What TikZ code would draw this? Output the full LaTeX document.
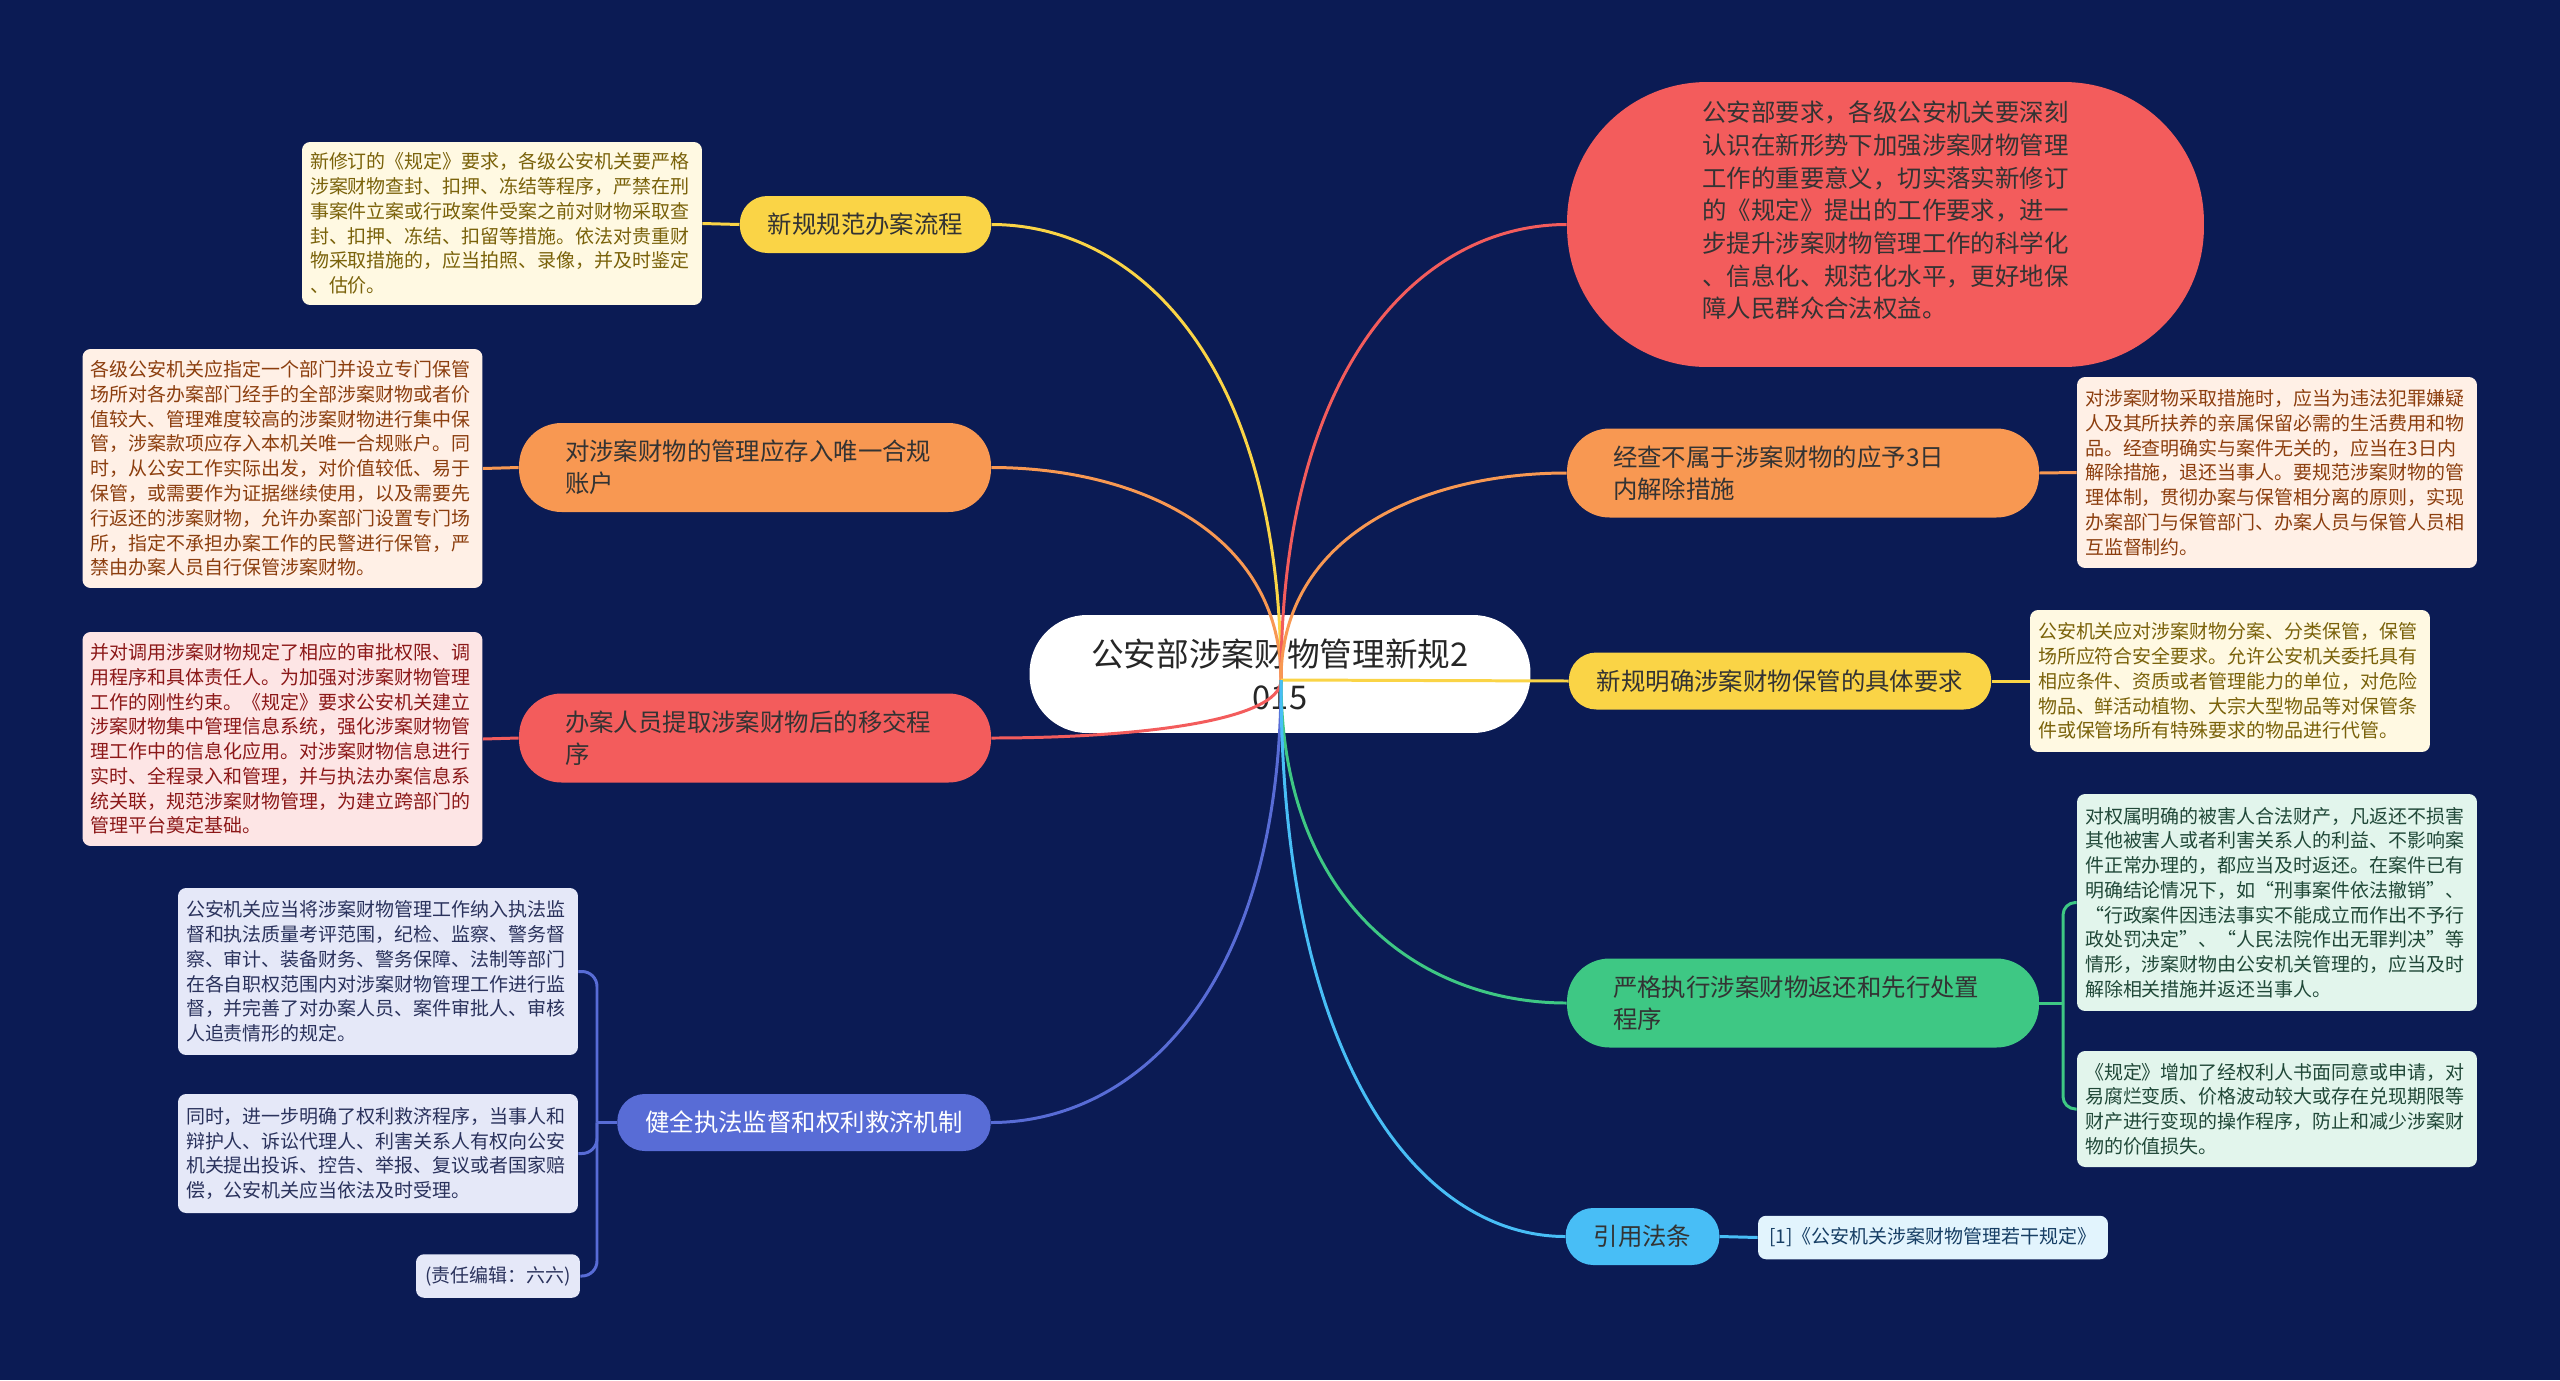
\documentclass[tikz,border=0pt]{standalone}
\usepackage{fontspec}
\setmainfont{Noto Sans CJK SC}
\usepackage{xcolor}
\usepackage{tikz}
\definecolor{navybg}{RGB}{11,27,84}
\definecolor{mmyellow}{RGB}{250,212,70}
\definecolor{mmorange}{RGB}{248,152,82}
\definecolor{mmred}{RGB}{243,92,92}
\definecolor{mmblue}{RGB}{88,108,214}
\definecolor{mmgreen}{RGB}{62,200,132}
\definecolor{mmcyan}{RGB}{72,190,246}
\definecolor{fillyellow}{RGB}{255,249,226}
\definecolor{textyellow}{RGB}{122,98,10}
\definecolor{fillorange}{RGB}{255,240,230}
\definecolor{textorange}{RGB}{140,62,14}
\definecolor{fillred}{RGB}{253,229,229}
\definecolor{textred}{RGB}{140,24,24}
\definecolor{fillblue}{RGB}{229,232,248}
\definecolor{textblue}{RGB}{42,50,92}
\definecolor{fillgreen}{RGB}{226,245,236}
\definecolor{textgreen}{RGB}{32,72,56}
\definecolor{fillcyan}{RGB}{226,244,253}
\definecolor{textcyan}{RGB}{22,62,100}

\begin{document}
\begin{tikzpicture}[
    x=0.02cm, y=-0.02cm,
    root/.style={rectangle, rounded corners=1.15cm, fill=white, text=black!85, minimum width=10.02cm, minimum height=2.36cm, align=center, font=\fontsize{18.6}{24.5}\selectfont},
    topic/.style={rectangle, rounded corners=0.55cm, minimum height=1.14cm, inner xsep=0.56cm, text=black!80, font=\fontsize{13.9}{18}\selectfont},
    topictwo/.style={rectangle, rounded corners=0.85cm, minimum height=1.78cm, inner xsep=0.92cm, text width=7.6cm, align=left, text=black!80, font=\fontsize{13.9}{18.3}\selectfont},
    bigtopic/.style={rectangle, rounded corners=2.8cm, minimum width=12.74cm, minimum height=5.7cm, align=left, text=black!80, font=\fontsize{13.9}{18.6}\selectfont},
    leaf/.style={rectangle, rounded corners=0.16cm, inner xsep=0.16cm, inner ysep=0.1cm, text width=7.68cm, align=left, font=\fontsize{10.8}{14.1}\selectfont},
    tag/.style={rectangle, rounded corners=0.16cm, minimum height=0.87cm, font=\fontsize{10.8}{14.1}\selectfont},
    link/.style={line width=1.7pt}
]
    % Background
    \fill[navybg] (0,0) rectangle (2560,1380);

    % Central topic
    \node[root] (root) at (1280,674) {公安部涉案财物管理新规2\\015};
    \coordinate (hub) at (1281,680);

    % Left branches
    \node[topic, fill=mmyellow] (b1) at (865.5,224.5) {新规规范办案流程};
    \node[topictwo, fill=mmorange] (b2) at (755,467.5) {对涉案财物的管理应存入唯一合规\\账户};
    \node[topictwo, fill=mmred] (b3) at (755,738) {办案人员提取涉案财物后的移交程\\序};
    \node[topic, fill=mmblue, text=white] (b4) at (804,1122.5) {健全执法监督和权利救济机制};

    % Right branches
    \node[bigtopic, fill=mmred] (b5) at (1885.5,224.5) {公安部要求，各级公安机关要深刻\\认识在新形势下加强涉案财物管理\\工作的重要意义，切实落实新修订\\的《规定》提出的工作要求，进一\\步提升涉案财物管理工作的科学化\\、信息化、规范化水平，更好地保\\障人民群众合法权益。\\[-0.05cm]\mbox{}};
    \node[topictwo, fill=mmorange] (b6) at (1803,473) {经查不属于涉案财物的应予3日\\内解除措施};
    \node[topic, fill=mmyellow] (b7) at (1780,681) {新规明确涉案财物保管的具体要求};
    \node[topictwo, fill=mmgreen] (b8) at (1803,1003) {严格执行涉案财物返还和先行处置\\程序};
    \node[topic, fill=mmcyan] (b9) at (1642.5,1236.5) {引用法条};

    % Left details
    \node[leaf, fill=fillyellow, text=textyellow, minimum height=3.26cm] (n1) at (502,223.5) {新修订的《规定》要求，各级公安机关要严格\\涉案财物查封、扣押、冻结等程序，严禁在刑\\事案件立案或行政案件受案之前对财物采取查\\封、扣押、冻结、扣留等措施。依法对贵重财\\物采取措施的，应当拍照、录像，并及时鉴定\\、估价。};
    \node[leaf, fill=fillorange, text=textorange, minimum height=4.78cm] (n2) at (282.5,468.5) {各级公安机关应指定一个部门并设立专门保管\\场所对各办案部门经手的全部涉案财物或者价\\值较大、管理难度较高的涉案财物进行集中保\\管，涉案款项应存入本机关唯一合规账户。同\\时，从公安工作实际出发，对价值较低、易于\\保管，或需要作为证据继续使用，以及需要先\\行返还的涉案财物，允许办案部门设置专门场\\所，指定不承担办案工作的民警进行保管，严\\禁由办案人员自行保管涉案财物。};
    \node[leaf, fill=fillred, text=textred, minimum height=4.28cm] (n3) at (282.5,739) {并对调用涉案财物规定了相应的审批权限、调\\用程序和具体责任人。为加强对涉案财物管理\\工作的刚性约束。《规定》要求公安机关建立\\涉案财物集中管理信息系统，强化涉案财物管\\理工作中的信息化应用。对涉案财物信息进行\\实时、全程录入和管理，并与执法办案信息系\\统关联，规范涉案财物管理，为建立跨部门的\\管理平台奠定基础。};
    \node[leaf, fill=fillblue, text=textblue, minimum height=3.34cm] (n4a) at (378,971.5) {公安机关应当将涉案财物管理工作纳入执法监\\督和执法质量考评范围，纪检、监察、警务督\\察、审计、装备财务、警务保障、法制等部门\\在各自职权范围内对涉案财物管理工作进行监\\督，并完善了对办案人员、案件审批人、审核\\人追责情形的规定。};
    \node[leaf, fill=fillblue, text=textblue, minimum height=2.38cm] (n4b) at (378,1153.5) {同时，进一步明确了权利救济程序，当事人和\\辩护人、诉讼代理人、利害关系人有权向公安\\机关提出投诉、控告、举报、复议或者国家赔\\偿，公安机关应当依法及时受理。};
    \node[tag, fill=fillblue, text=textblue, minimum width=3.28cm] (n4c) at (498,1276) {(责任编辑：六六)};

    % Right details
    \node[leaf, fill=fillorange, text=textorange, minimum height=3.82cm] (r6) at (2277,472.5) {对涉案财物采取措施时，应当为违法犯罪嫌疑\\人及其所扶养的亲属保留必需的生活费用和物\\品。经查明确实与案件无关的，应当在3日内\\解除措施，退还当事人。要规范涉案财物的管\\理体制，贯彻办案与保管相分离的原则，实现\\办案部门与保管部门、办案人员与保管人员相\\互监督制约。};
    \node[leaf, fill=fillyellow, text=textyellow, minimum height=2.84cm] (r7) at (2230,681) {公安机关应对涉案财物分案、分类保管，保管\\场所应符合安全要求。允许公安机关委托具有\\相应条件、资质或者管理能力的单位，对危险\\物品、鲜活动植物、大宗大型物品等对保管条\\件或保管场所有特殊要求的物品进行代管。};
    \node[leaf, fill=fillgreen, text=textgreen, minimum height=4.34cm] (r8a) at (2277,902.5) {对权属明确的被害人合法财产，凡返还不损害\\其他被害人或者利害关系人的利益、不影响案\\件正常办理的，都应当及时返还。在案件已有\\明确结论情况下，如“刑事案件依法撤销”、\\“行政案件因违法事实不能成立而作出不予行\\政处罚决定”、“人民法院作出无罪判决”等\\情形，涉案财物由公安机关管理的，应当及时\\解除相关措施并返还当事人。};
    \node[leaf, fill=fillgreen, text=textgreen, minimum height=2.32cm] (r8b) at (2277,1109) {《规定》增加了经权利人书面同意或申请，对\\易腐烂变质、价格波动较大或存在兑现期限等\\财产进行变现的操作程序，防止和减少涉案财\\物的价值损失。};
    \node[tag, fill=fillcyan, text=textcyan, minimum width=7cm] (r9) at (1933,1237.5) {[1]《公安机关涉案财物管理若干规定》};

    % Root to branches
    \draw[link, mmyellow] (hub) .. controls (1281,361) and (1136,224.5) .. (b1.east);
    \draw[link, mmorange] (hub) .. controls (1281,532) and (1136,467.5) .. (b2.east);
    \draw[link, mmred] (hub) .. controls (1281,721) and (1136,738) .. (b3.east);
    \draw[link, mmblue] (hub) .. controls (1281,989) and (1136,1122.5) .. (b4.east);
    \draw[link, mmred] (hub) .. controls (1281,361) and (1424,224.5) .. (b5.west);
    \draw[link, mmorange] (hub) .. controls (1281,535) and (1424,473) .. (b6.west);
    \draw[link, mmyellow] (hub) -- (b7.west);
    \draw[link, mmgreen] (hub) .. controls (1281,906) and (1424,1003) .. (b8.west);
    \draw[link, mmcyan] (hub) .. controls (1281,1070) and (1424,1236.5) .. (b9.west);

    % Branches to details
    \draw[link, mmyellow] (b1.west) -- (n1.east);
    \draw[link, mmorange] (b2.west) -- (n2.east);
    \draw[link, mmred] (b3.west) -- (n3.east);
    \coordinate (k4) at (597,1122.5);
    \draw[link, mmblue] (b4.west) -- (k4);
    \draw[link, mmblue, rounded corners=0.3cm] (k4) |- (n4a.east);
    \draw[link, mmblue, rounded corners=0.3cm] (k4) |- (n4b.east);
    \draw[link, mmblue, rounded corners=0.3cm] (k4) |- (n4c.east);
    \draw[link, mmorange] (b6.east) -- (r6.west);
    \draw[link, mmyellow] (b7.east) -- (r7.west);
    \coordinate (k8) at (2063,1003);
    \draw[link, mmgreen] (b8.east) -- (k8);
    \draw[link, mmgreen, rounded corners=0.25cm] (k8) |- (r8a.west);
    \draw[link, mmgreen, rounded corners=0.25cm] (k8) |- (r8b.west);
    \draw[link, mmcyan] (b9.east) -- (r9.west);
\end{tikzpicture}
\end{document}
